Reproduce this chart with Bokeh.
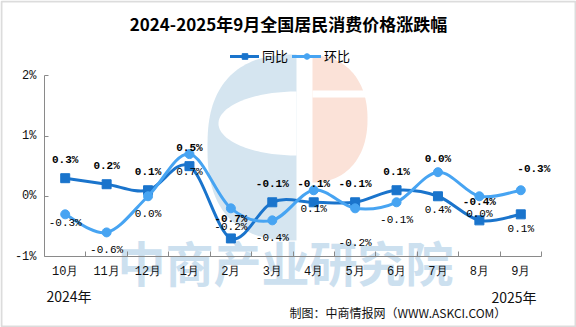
import numpy as np
from bokeh.plotting import figure
from bokeh.models import (ColumnDataSource, FixedTicker, Label, LabelSet, Legend,
                          LegendItem, PolyAnnotation, Range1d)
from bokeh.core.properties import value
from bokeh.embed import file_html
from bokeh.resources import INLINE

# ---------------- data ----------------
title_text = "2024-2025年9月全国居民消费价格涨跌幅"
months = ["10月", "11月", "12月", "1月", "2月", "3月", "4月", "5月", "6月", "7月", "8月", "9月"]
tongbi = [0.3, 0.2, 0.1, 0.5, -0.7, -0.1, -0.1, -0.1, 0.1, 0.0, -0.4, -0.3]   # 同比 (%)
huanbi = [-0.3, -0.6, 0.0, 0.7, -0.2, -0.4, 0.1, -0.2, -0.1, 0.4, 0.0, 0.1]  # 环比 (%)
y_ticks = [-1, 0, 1, 2]
y_tick_labels = ["-1%", "0%", "1%", "2%"]
series_names = ["同比", "环比"]
year_start = "2024年"
year_end = "2025年"
source_note = "制图：中商情报网（WWW.ASKCI.COM）"
watermark_text = "中商产业研究院"

# ---------------- style / layout ----------------
W, H = 576, 327
PL, PR, PT, PB = 44, 541, 75.3, 256     # plot-area edges in canvas pixels
C_TB = "#1A74CC"
C_HB = "#47A4F2"
AX = "#8A8A8A"
MONO = "Liberation Mono"
CJK = "Noto Sans CJK SC"
# data-label pixel nudges (positive = up)
tb_dy = [18, 18, 18, 18, 19, 18, 18, 18, 18, 37, 18, 45]
tb_dx = [0, 0, 0, 0, 0, 0, 0, 0, 0, 0, 0, 13]
hb_dy = [-9, -18, -18, -18, -19, -18, -19, -35, -18, -38, -18, -39]

n = len(months)
x_lo, x_hi = -0.5, n - 0.5
y_lo, y_hi = y_ticks[0], y_ticks[-1]
kx = (PR - PL) / (x_hi - x_lo)
ky = (PB - PT) / (y_hi - y_lo)
# frame covers the full canvas; axes are pinned with fixed_location
x_range = Range1d(x_lo - PL / kx, x_hi + (W - PR) / kx)
y_range = Range1d(y_lo - (H - PB) / ky, y_hi + PT / ky)


def S(cx, cy):
    """canvas pixel (top-left origin) -> annotation screen units (frame = canvas)"""
    return cx, H - cy


p = figure(width=W, height=H, x_range=x_range, y_range=y_range,
           output_backend="svg", toolbar_location=None,
           min_border=0, min_border_left=0, min_border_right=0,
           min_border_top=0, min_border_bottom=0)
p.title.visible = False
p.background_fill_color = "white"
p.border_fill_color = "white"
p.outline_line_color = None
p.xgrid.visible = False
p.ygrid.visible = False


# ---------------- watermark / logo ----------------
def half_superellipse(cx, cy, rx, ry, nexp, side, m=80):
    t = np.linspace(-np.pi / 2, np.pi / 2, m)
    c, s = np.cos(t), np.sin(t)
    dx = np.abs(c) ** (2 / nexp) * rx
    dy = np.sign(s) * np.abs(s) ** (2 / nexp) * ry
    return list(cx + side * dx), list(cy + dy)


def add_poly(xs, ys, color, level="underlay"):
    sx, sy = zip(*[S(a, b) for a, b in zip(xs, ys)])
    p.add_layout(PolyAnnotation(xs=list(sx), ys=list(sy), xs_units="screen", ys_units="screen",
                                fill_color=color, fill_alpha=1.0, line_color=None, level=level))


bx, by = half_superellipse(296, 147, 89, 93, 2.5, -1)
add_poly(bx, by, "#D5E5F0")
ix, iy = half_superellipse(296, 123, 78, 32, 2, -1)
add_poly(ix, iy, "white")
ox, oy = half_superellipse(312, 118.5, 55, 63.5, 2.2, 1)
add_poly(ox, oy, "#FBE2D8")
add_poly([312, 372, 372, 312], [90, 90, 97, 97], "white")

wx, wy = S(285, 260)
p.add_layout(Label(x=wx, y=wy, x_units="screen", y_units="screen", text=watermark_text,
                   text_align="center", text_baseline="middle", text_font=CJK,
                   text_font_size="48px", text_font_style="bold", text_color="#CCE0EF",
                   level="underlay"))

# ---------------- axes ----------------
xt = list(range(n))
p.xaxis.fixed_location = y_lo
p.xaxis.bounds = (x_lo, x_hi)
p.xaxis.ticker = FixedTicker(ticks=xt, minor_ticks=[i + 0.5 for i in xt])
p.xaxis.major_label_overrides = {i: m for i, m in zip(xt, months)}
p.xaxis.major_tick_in = 0
p.xaxis.major_tick_out = 0
p.xaxis.minor_tick_in = 5
p.xaxis.minor_tick_out = 0
p.xaxis.minor_tick_line_color = AX
p.xaxis.axis_line_color = AX
p.xaxis.major_label_standoff = 8
p.xaxis.major_label_text_font = MONO
p.xaxis.major_label_text_font_size = "12px"
p.xaxis.major_label_text_color = "#111111"

p.yaxis.fixed_location = x_lo
p.yaxis.bounds = (y_lo, y_hi)
p.yaxis.ticker = FixedTicker(ticks=y_ticks)
p.yaxis.major_label_overrides = {t: s for t, s in zip(y_ticks, y_tick_labels)}
p.yaxis.major_tick_in = 4
p.yaxis.major_tick_out = 0
p.yaxis.major_tick_line_color = AX
p.yaxis.minor_tick_line_color = None
p.yaxis.axis_line_color = AX
p.yaxis.major_label_standoff = 8
p.yaxis.major_label_text_font = MONO
p.yaxis.major_label_text_font_size = "12px"
p.yaxis.major_label_text_color = "#111111"


# ---------------- smooth lines ----------------
def bezier_data(vals):
    xs = np.arange(len(vals), dtype=float)
    ys = np.asarray(vals, dtype=float)
    m = len(vals)

    def P(i):
        i = min(max(i, 0), m - 1)
        return xs[i], ys[i]
    d = dict(x0=[], y0=[], x1=[], y1=[], cx0=[], cy0=[], cx1=[], cy1=[])
    for i in range(m - 1):
        p0, p1, p2, p3 = P(i - 1), P(i), P(i + 1), P(i + 2)
        d["x0"].append(p1[0]); d["y0"].append(p1[1])
        d["x1"].append(p2[0]); d["y1"].append(p2[1])
        d["cx0"].append(p1[0] + (p2[0] - p0[0]) / 6); d["cy0"].append(p1[1] + (p2[1] - p0[1]) / 6)
        d["cx1"].append(p2[0] - (p3[0] - p1[0]) / 6); d["cy1"].append(p2[1] - (p3[1] - p1[1]) / 6)
    return ColumnDataSource(d)


r_tb_line = p.bezier(x0="x0", y0="y0", x1="x1", y1="y1", cx0="cx0", cy0="cy0", cx1="cx1", cy1="cy1",
                     source=bezier_data(tongbi), line_color=C_TB, line_width=3, line_cap="round")
r_tb_pts = p.scatter(xt, tongbi, marker="square", size=9, fill_color=C_TB, line_color=C_TB)
r_hb_line = p.bezier(x0="x0", y0="y0", x1="x1", y1="y1", cx0="cx0", cy0="cy0", cx1="cx1", cy1="cy1",
                     source=bezier_data(huanbi), line_color=C_HB, line_width=3, line_cap="round")
r_hb_pts = p.scatter(xt, huanbi, marker="circle", size=9, fill_color=C_HB, line_color=C_HB)

# ---------------- data labels ----------------
tb_src = ColumnDataSource(dict(x=xt, y=tongbi, t=[f"{v:.1f}%" for v in tongbi], dx=tb_dx, dy=tb_dy))
hb_src = ColumnDataSource(dict(x=xt, y=huanbi, t=[f"{v:.1f}%" for v in huanbi], dy=hb_dy))
p.add_layout(LabelSet(x="x", y="y", text="t", x_offset="dx", y_offset="dy", source=tb_src,
                      text_align="center", text_baseline="middle", text_font=value(MONO),
                      text_font_size=value("11px"), text_font_style=value("bold"), text_color="black"))
p.add_layout(LabelSet(x="x", y="y", text="t", x_offset=0, y_offset="dy", source=hb_src,
                      text_align="center", text_baseline="middle", text_font=value(MONO),
                      text_font_size=value("11px"), text_color="black"))

# ---------------- legend ----------------
legend = Legend(items=[LegendItem(label=series_names[0], renderers=[r_tb_line, r_tb_pts]),
                       LegendItem(label=series_names[1], renderers=[r_hb_line, r_hb_pts])],
                orientation="horizontal", location=S(230, 65),
                glyph_width=29, glyph_height=14, label_standoff=3, spacing=4,
                padding=0, margin=0, border_line_color=None, background_fill_alpha=0,
                label_text_font=CJK, label_text_font_size="13px", label_height=14,
                label_text_color="black")
p.add_layout(legend)


# ---------------- texts ----------------
def add_text(cx, cy, text, size, align="left", bold=False, font=CJK, color="#111111"):
    sx, sy = S(cx, cy)
    p.add_layout(Label(x=sx, y=sy, x_units="screen", y_units="screen", text=text,
                       text_align=align, text_baseline="middle", text_font=font,
                       text_font_size=size, text_font_style="bold" if bold else "normal",
                       text_color=color))


add_text(288, 23, title_text, "17px", align="center", bold=True, color="black")
add_text(46, 295, year_start, "14px")
add_text(536, 296, year_end, "14px", align="right")
add_text(289, 312, source_note, "12px")

# border around the picture
bxs, bys = zip(*[S(a, b) for a, b in [(1, 1), (575, 1), (575, 326), (1, 326)]])
p.add_layout(PolyAnnotation(xs=list(bxs), ys=list(bys), xs_units="screen", ys_units="screen",
                            fill_color=None, fill_alpha=0, line_color="#8C8C8C", line_width=2))

open("out.html", "w").write(file_html(p, INLINE))
